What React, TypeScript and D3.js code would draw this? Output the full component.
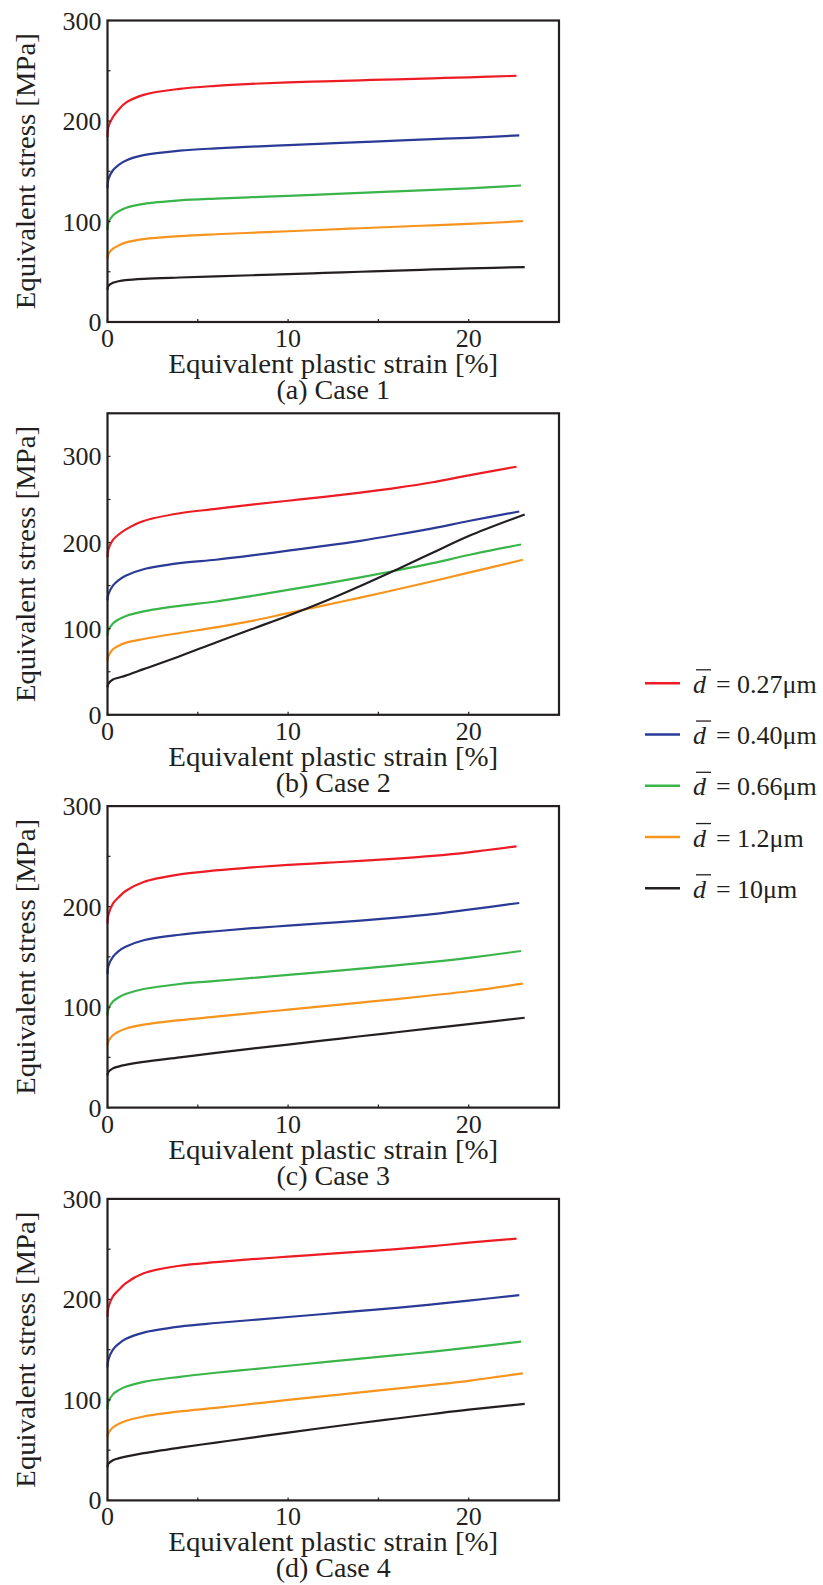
import React from "react";
import * as d3 from "d3";

// strain grid [%] shared by every curve, plus the last point of each curve
const STRAIN = [0, 0.05, 0.3, 0.6, 1, 2, 4, 6, 8, 10, 12, 14, 16, 18, 20];
const END_STRAIN = [22.65, 22.8, 22.9, 23.0, 23.1];

const DIAMETERS = ["0.27", "0.40", "0.66", "1.2", "10"];
const COLORS = ["#ED1C24", "#2A3A96", "#39B54A", "#F7941D", "#231F20"];

// equivalent stress [MPa], one row per grain size (0.27, 0.40, 0.66, 1.2, 10 um)
const case1Stress = [
  [184, 194, 204, 211, 218, 226, 232, 235, 237, 238.5, 239.5, 240.5, 241.5, 242.5, 243.5, 245],
  [133, 142, 151, 156, 160.5, 166, 170.5, 172.8, 174.5, 176, 177.5, 179, 180.5, 182, 183.3, 185.7],
  [91.5, 99, 106, 110, 113.5, 117.5, 121, 122.8, 124.2, 125.5, 127, 128.5, 130, 131.5, 133, 135.8],
  [63, 67.5, 73, 76, 79, 82.5, 85.5, 87.3, 88.8, 90.3, 91.8, 93.3, 94.8, 96.2, 97.6, 100.3],
  [32, 36, 39, 40.5, 41.7, 43, 44.3, 45.4, 46.5, 47.6, 48.8, 50, 51.2, 52.3, 53.4, 54.6],
];
const case2Stress = [
  [183, 192, 203, 209, 215, 225, 234, 239, 244, 248.5, 253, 258, 263.5, 270, 278, 288],
  [132.6, 140, 150, 156, 161.5, 169, 176, 180, 185, 190.5, 196, 202, 209, 216.5, 225, 236],
  [91.9, 98, 106, 110.5, 114.5, 120, 126.5, 131.5, 138, 145, 152, 159.5, 167.5, 176, 185.5, 197.7],
  [62.8, 68, 76, 80, 83.5, 88, 95, 101.5, 109, 118, 127, 136, 145.5, 155, 165, 180],
  [31.8, 36, 41, 43, 45.5, 53, 68, 84, 99.5, 115, 131.5, 149.5, 168.5, 188, 207.5, 232.6],
];
const case3Stress = [
  [183, 192, 203, 209, 215.5, 224.5, 232, 236, 239, 241.5, 243.5, 245.5, 247.8, 250.5, 254, 260],
  [133, 141, 150, 155.5, 160, 166.5, 172, 175.5, 178.5, 181, 183.5, 186, 189, 192.5, 197, 203.6],
  [91.7, 98, 105.5, 109.5, 113, 118, 123, 126, 129, 132, 135, 138.2, 141.5, 145, 149, 155.8],
  [61.8, 66, 72, 75.5, 78.5, 82.5, 87, 90.5, 94, 97.5, 101, 104.5, 108, 111.8, 115.8, 123.3],
  [31.9, 35.5, 39, 40.8, 42.5, 45.5, 50, 54.5, 58.7, 62.7, 66.8, 71, 75, 79, 83, 89.4],
];
const case4Stress = [
  [182.7, 192, 203, 209, 216, 226, 233.5, 237, 240, 242.5, 245, 247.5, 250, 253, 256.5, 260.5],
  [132.4, 140, 150, 155.5, 160.5, 167, 173, 176.5, 179.5, 182.5, 185.5, 188.5, 191.5, 195, 198.8, 204.3],
  [91, 98, 105.5, 109.5, 113, 118, 123, 127, 130.5, 134, 137.5, 141, 144.5, 148, 152, 158],
  [62.9, 67, 72.5, 76, 79, 83.5, 88.5, 92, 96, 100, 103.7, 107.4, 111.2, 115, 119, 126.4],
  [33, 36.5, 40, 41.8, 43.5, 47, 52.5, 57.5, 62.5, 67.5, 72.3, 77, 81.5, 86, 90.3, 96],
];

const CAPTIONS = ["(a) Case 1", "(b) Case 2", "(c) Case 3", "(d) Case 4"];
const Y_MAX = [300, 350, 300, 300];
const X_TICKS = [0, 5, 10, 15, 20, 25];
const X_LABELS = [0, 10, 20];
const Y_LABELS = [0, 100, 200, 300];

const FONT = "'Liberation Serif', 'Times New Roman', serif";
const INK = "#231F20";

const left = 107.5;
const right = 559;
const boxH = 301.5;
const firstTop = 20.5;
const step = 392.8;

function Panel({ idx, stress }: { idx: number; stress: number[][] }) {
  const top = firstTop + idx * step;
  const bottom = top + boxH;
  const x = d3.scaleLinear().domain([0, 25]).range([left, right]);
  const y = d3.scaleLinear().domain([0, Y_MAX[idx]]).range([bottom, top]);
  const line = d3
    .line<[number, number]>()
    .x((d) => x(d[0]))
    .y((d) => y(d[1]))
    .curve(d3.curveCatmullRom.alpha(0.5));
  const yTicks = d3.range(0, Y_MAX[idx] + 1, 50);
  const midY = (top + bottom) / 2;

  return (
    <g>
      {stress.map((vals, k) => {
        const pts: [number, number][] = STRAIN.map((s, i) => [s, vals[i]] as [number, number]);
        pts.push([END_STRAIN[k], vals[vals.length - 1]]);
        return (
          <path key={k} d={line(pts) || ""} fill="none" stroke={COLORS[k]} strokeWidth={2.2} />
        );
      })}
      <rect x={left} y={top} width={right - left} height={boxH} fill="none" stroke={INK} strokeWidth={2.2} />
      {X_TICKS.map((t) => (
        <line key={"xt" + t} x1={x(t)} x2={x(t)} y1={bottom} y2={bottom - 3} stroke={INK} strokeWidth={1.2} />
      ))}
      {yTicks.map((t) => (
        <line key={"yt" + t} x1={left} x2={left + 3} y1={y(t)} y2={y(t)} stroke={INK} strokeWidth={1.2} />
      ))}
      {X_LABELS.map((t) => (
        <text key={"xl" + t} x={x(t)} y={bottom + 25} textAnchor="middle" fontSize={26} fontFamily={FONT} fill={INK}>
          {t}
        </text>
      ))}
      {Y_LABELS.map((t) => (
        <text key={"yl" + t} x={left - 6} y={y(t) + 9} textAnchor="end" fontSize={26} fontFamily={FONT} fill={INK}>
          {t}
        </text>
      ))}
      <text
        x={(left + right) / 2}
        y={bottom + 51}
        textAnchor="middle"
        fontSize={28}
        fontFamily={FONT}
        fill={INK}
        textLength={330}
        lengthAdjust="spacingAndGlyphs"
      >
        Equivalent plastic strain [%]
      </text>
      <text x={(left + right) / 2} y={bottom + 77} textAnchor="middle" fontSize={28} fontFamily={FONT} fill={INK}>
        {CAPTIONS[idx]}
      </text>
      <text
        transform={`translate(35,${midY}) rotate(-90)`}
        textAnchor="middle"
        fontSize={28}
        fontFamily={FONT}
        fill={INK}
        textLength={276}
        lengthAdjust="spacingAndGlyphs"
      >
        Equivalent stress [MPa]
      </text>
    </g>
  );
}

function Legend() {
  const rowY = d3.scaleLinear().domain([0, 4]).range([683.3, 888.3]);
  return (
    <g>
      {DIAMETERS.map((d, i) => {
        const cy = rowY(i);
        const base = cy + 9.5;
        return (
          <g key={d}>
            <line x1={645} x2={680} y1={cy} y2={cy} stroke={COLORS[i]} strokeWidth={2.5} />
            <text x={693} y={base} fontSize={26} fontFamily={FONT} fontStyle="italic" fill={INK}>
              d
            </text>
            <line x1={696} x2={711} y1={base - 23} y2={base - 23} stroke={INK} strokeWidth={1.3} />
            <text x={716} y={base} fontSize={26} fontFamily={FONT} fill={INK}>
              =
            </text>
            <text x={737} y={base} fontSize={26} fontFamily={FONT} fill={INK}>
              {d + "μm"}
            </text>
          </g>
        );
      })}
    </g>
  );
}

export default function App() {
  const cases = [case1Stress, case2Stress, case3Stress, case4Stress];
  return (
    <svg
      width={823}
      height={1585}
      style={{ position: "absolute", left: 0, top: 0, background: "#fff" }}
    >
      {cases.map((c, i) => (
        <Panel key={i} idx={i} stress={c} />
      ))}
      <Legend />
    </svg>
  );
}
